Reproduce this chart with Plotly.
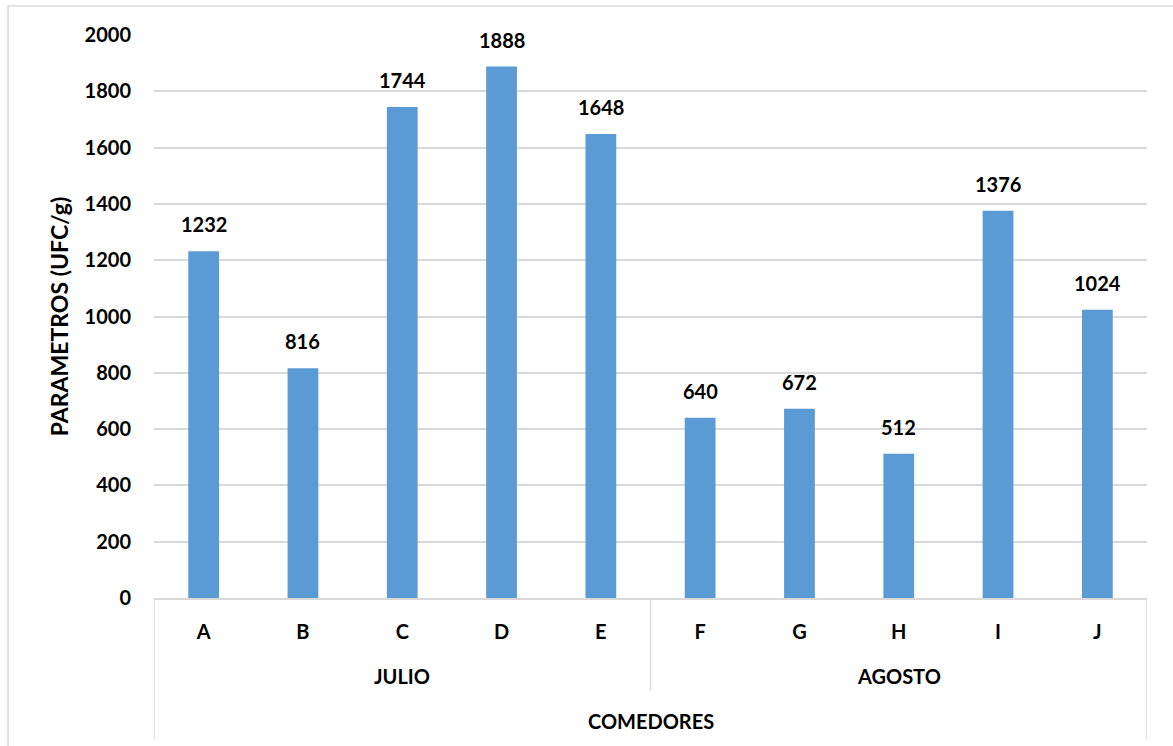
import plotly.graph_objects as go

# Microbiological counts per dining hall (comedor), grouped by month
comedores = ["A", "B", "C", "D", "E", "F", "G", "H", "I", "J"]
meses = ["JULIO", "AGOSTO"]
comedores_por_mes = [5, 5]
valores = [1232, 816, 1744, 1888, 1648, 640, 672, 512, 1376, 1024]
y_ticks = [0, 200, 400, 600, 800, 1000, 1200, 1400, 1600, 1800, 2000]

BAR_COLOR = "#5B9BD5"
LINE_COLOR = "#D9D9D9"
FONT = "Lato"

fig = go.Figure(
    go.Bar(
        x=comedores,
        y=valores,
        marker=dict(color=BAR_COLOR, line=dict(width=0)),
        width=0.31,
        hoverinfo="x+y",
    )
)

# value labels above each bar
for c, v in zip(comedores, valores):
    fig.add_annotation(
        x=c, y=v, text=f"<b>{v}</b>", showarrow=False,
        yanchor="bottom", yshift=13,
        font=dict(family=FONT, size=20, color="black"),
    )

# month labels centred under each group, with vertical separators
start = 0
seps = [-0.5]
for mes, n in zip(meses, comedores_por_mes):
    centre = start + (n - 1) / 2
    fig.add_annotation(
        x=centre, y=0, yref="y", text=f"<b>{mes}</b>", showarrow=False,
        yanchor="middle", yshift=-78,
        font=dict(family=FONT, size=20, color="black"),
    )
    start += n
    seps.append(start - 0.5)

for i, s in enumerate(seps):
    is_edge = i == 0 or i == len(seps) - 1
    fig.add_shape(
        type="line", xref="x", yref="paper",
        x0=s, x1=s, y0=0, y1=-0.25 if is_edge else -0.165,
        line=dict(color=LINE_COLOR, width=1.5),
    )

# outer chart border
fig.add_shape(
    type="rect", xref="paper", yref="paper",
    x0=-0.147, x1=1.1, y0=-0.4, y1=1.0515,
    line=dict(color=LINE_COLOR, width=1.5), fillcolor="rgba(0,0,0,0)",
)

# third axis level title
fig.add_annotation(
    x=0.5, xref="paper", y=-0.218, yref="paper", text="<b>COMEDORES</b>",
    showarrow=False, yanchor="middle",
    font=dict(family=FONT, size=20, color="black"),
)

fig.update_layout(
    width=1173, height=746,
    margin=dict(l=154, r=26, t=35, b=148),
    paper_bgcolor="white", plot_bgcolor="white",
    showlegend=False,
    font=dict(family=FONT, size=20, color="black"),
    xaxis=dict(
        type="category",
        range=[-0.5, 9.5],
        showgrid=False, zeroline=False,
        showline=True, linecolor=LINE_COLOR, linewidth=1.5,
        ticks="", ticklabelstandoff=15,
        tickfont=dict(family=FONT, size=20, color="black", weight="bold"),
    ),
    yaxis=dict(
        range=[0, 2000],
        tickvals=y_ticks,
        showgrid=True, gridcolor=LINE_COLOR, gridwidth=1.5,
        zeroline=False, showline=False, ticks="",
        ticklabelstandoff=22,
        tickfont=dict(family=FONT, size=20, color="black", weight="bold"),
        title=dict(
            text="<b>PARAMETROS (UFC/g)</b>", standoff=9,
            font=dict(family=FONT, size=23, color="black"),
        ),
    ),
)

fig.write_html("out.html")
